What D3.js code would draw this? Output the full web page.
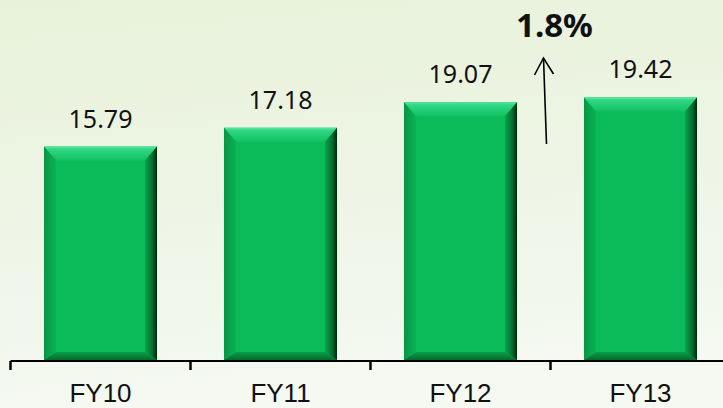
<!DOCTYPE html>
<html><head><meta charset="utf-8">
<script src="https://cdn.jsdelivr.net/npm/d3@7"></script>
<style>html,body{margin:0;padding:0;overflow:hidden;}svg{display:block;}</style>
</head><body>
<svg id="chart" width="723" height="408"></svg>
<script>
const categories = ["FY10", "FY11", "FY12", "FY13"];
const values = [15.79, 17.18, 19.07, 19.42];
const valueLabels = ["15.79", "17.18", "19.07", "19.42"];
const growthLabel = "1.8%";

const W = 723, H = 408;
const svg = d3.select("#chart");
const defs = svg.append("defs");

function lg(id, x1, y1, x2, y2, stops) {
  const g = defs.append("linearGradient").attr("id", id)
    .attr("x1", x1).attr("y1", y1).attr("x2", x2).attr("y2", y2);
  stops.forEach(s => g.append("stop").attr("offset", s[0]).attr("stop-color", s[1]));
}
lg("bg", "0", "0", "0.15", "1", [[0, "#e8f2da"], [0.6, "#eff5e7"], [1, "#f5f9f1"]]);
lg("gTop", "0", "0", "0", "1", [[0, "#5fe7a0"], [0.2, "#2fd784"], [1, "#12c163"]]);
lg("gLeft", "0", "0", "1", "0", [[0, "#079644"], [1, "#0bb254"]]);
lg("gRight", "0", "0", "1", "0", [[0, "#0aa24b"], [0.6, "#066e2e"], [1, "#00280a"]]);
lg("gBot", "0", "0", "0", "1", [[0, "#0a9e49"], [1, "#056b2c"]]);

svg.append("rect").attr("width", W).attr("height", H).attr("fill", "url(#bg)");

const x = d3.scaleBand().domain(categories).range([10.5, 730.5]).paddingInner(0.372).paddingOuter(0.186);
const y = d3.scaleLinear().domain([0, 25]).range([360, 22]);

const bt = 14, bs = 12, bb = 8;
const g = svg.append("g");
categories.forEach((c, i) => {
  const x0 = x(c), x1 = x(c) + x.bandwidth();
  const y0 = y(values[i]), y1 = y(0);
  const bar = g.append("g");
  bar.append("rect").attr("x", x0).attr("y", y0).attr("width", x1 - x0).attr("height", y1 - y0).attr("fill", "#0bbb59");
  const poly = (pts, fill) => bar.append("polygon").attr("points", pts.map(p => p.join(",")).join(" ")).attr("fill", fill);
  poly([[x0, y0], [x1, y0], [x1 - bs, y0 + bt], [x0 + bs, y0 + bt]], "url(#gTop)");
  poly([[x0, y0], [x0 + bs, y0 + bt], [x0 + bs, y1 - bb], [x0, y1]], "url(#gLeft)");
  poly([[x1, y0], [x1, y1], [x1 - bs, y1 - bb], [x1 - bs, y0 + bt]], "url(#gRight)");
  poly([[x0, y1], [x0 + bs, y1 - bb], [x1 - bs, y1 - bb], [x1, y1]], "url(#gBot)");

  g.append("text").attr("x", x(c) + x.bandwidth() / 2).attr("y", y(values[i]) - 19)
    .attr("text-anchor", "middle").attr("font-family", "'Noto Sans', sans-serif")
    .attr("font-size", 25).attr("fill", "#111").text(valueLabels[i]);
});

// axis
const axisY = y(0) + 1;
const step = x.step();
const bounds = categories.map(c => x(c) - x.paddingOuter() * step);
svg.append("line").attr("x1", bounds[0]).attr("x2", W).attr("y1", axisY).attr("y2", axisY)
  .attr("stroke", "#000").attr("stroke-width", 2);
bounds.forEach(b => {
  svg.append("line").attr("x1", b).attr("x2", b).attr("y1", axisY).attr("y2", axisY + 9)
    .attr("stroke", "#000").attr("stroke-width", 2.5);
});
categories.forEach(c => {
  svg.append("text").attr("x", x(c) + x.bandwidth() / 2).attr("y", 402)
    .attr("text-anchor", "middle").attr("font-family", "'Liberation Sans', Arial, sans-serif")
    .attr("font-size", 26).attr("fill", "#111").text(c);
});

// growth annotation
const ax = bounds[3] - 5;
svg.append("path").attr("d", `M${ax + 1},144 L${ax - 2},58`).attr("stroke", "#000").attr("stroke-width", 1.6).attr("fill", "none");
svg.append("path").attr("d", `M${ax - 11},75 L${ax - 2},58 L${ax + 8},74`).attr("stroke", "#000").attr("stroke-width", 1.6).attr("fill", "none");
svg.append("text").attr("x", ax + 9).attr("y", 37).attr("text-anchor", "middle")
  .attr("font-family", "'Noto Sans', sans-serif").attr("font-weight", "bold")
  .attr("font-size", 33).attr("fill", "#111").text(growthLabel);
</script>
</body></html>
